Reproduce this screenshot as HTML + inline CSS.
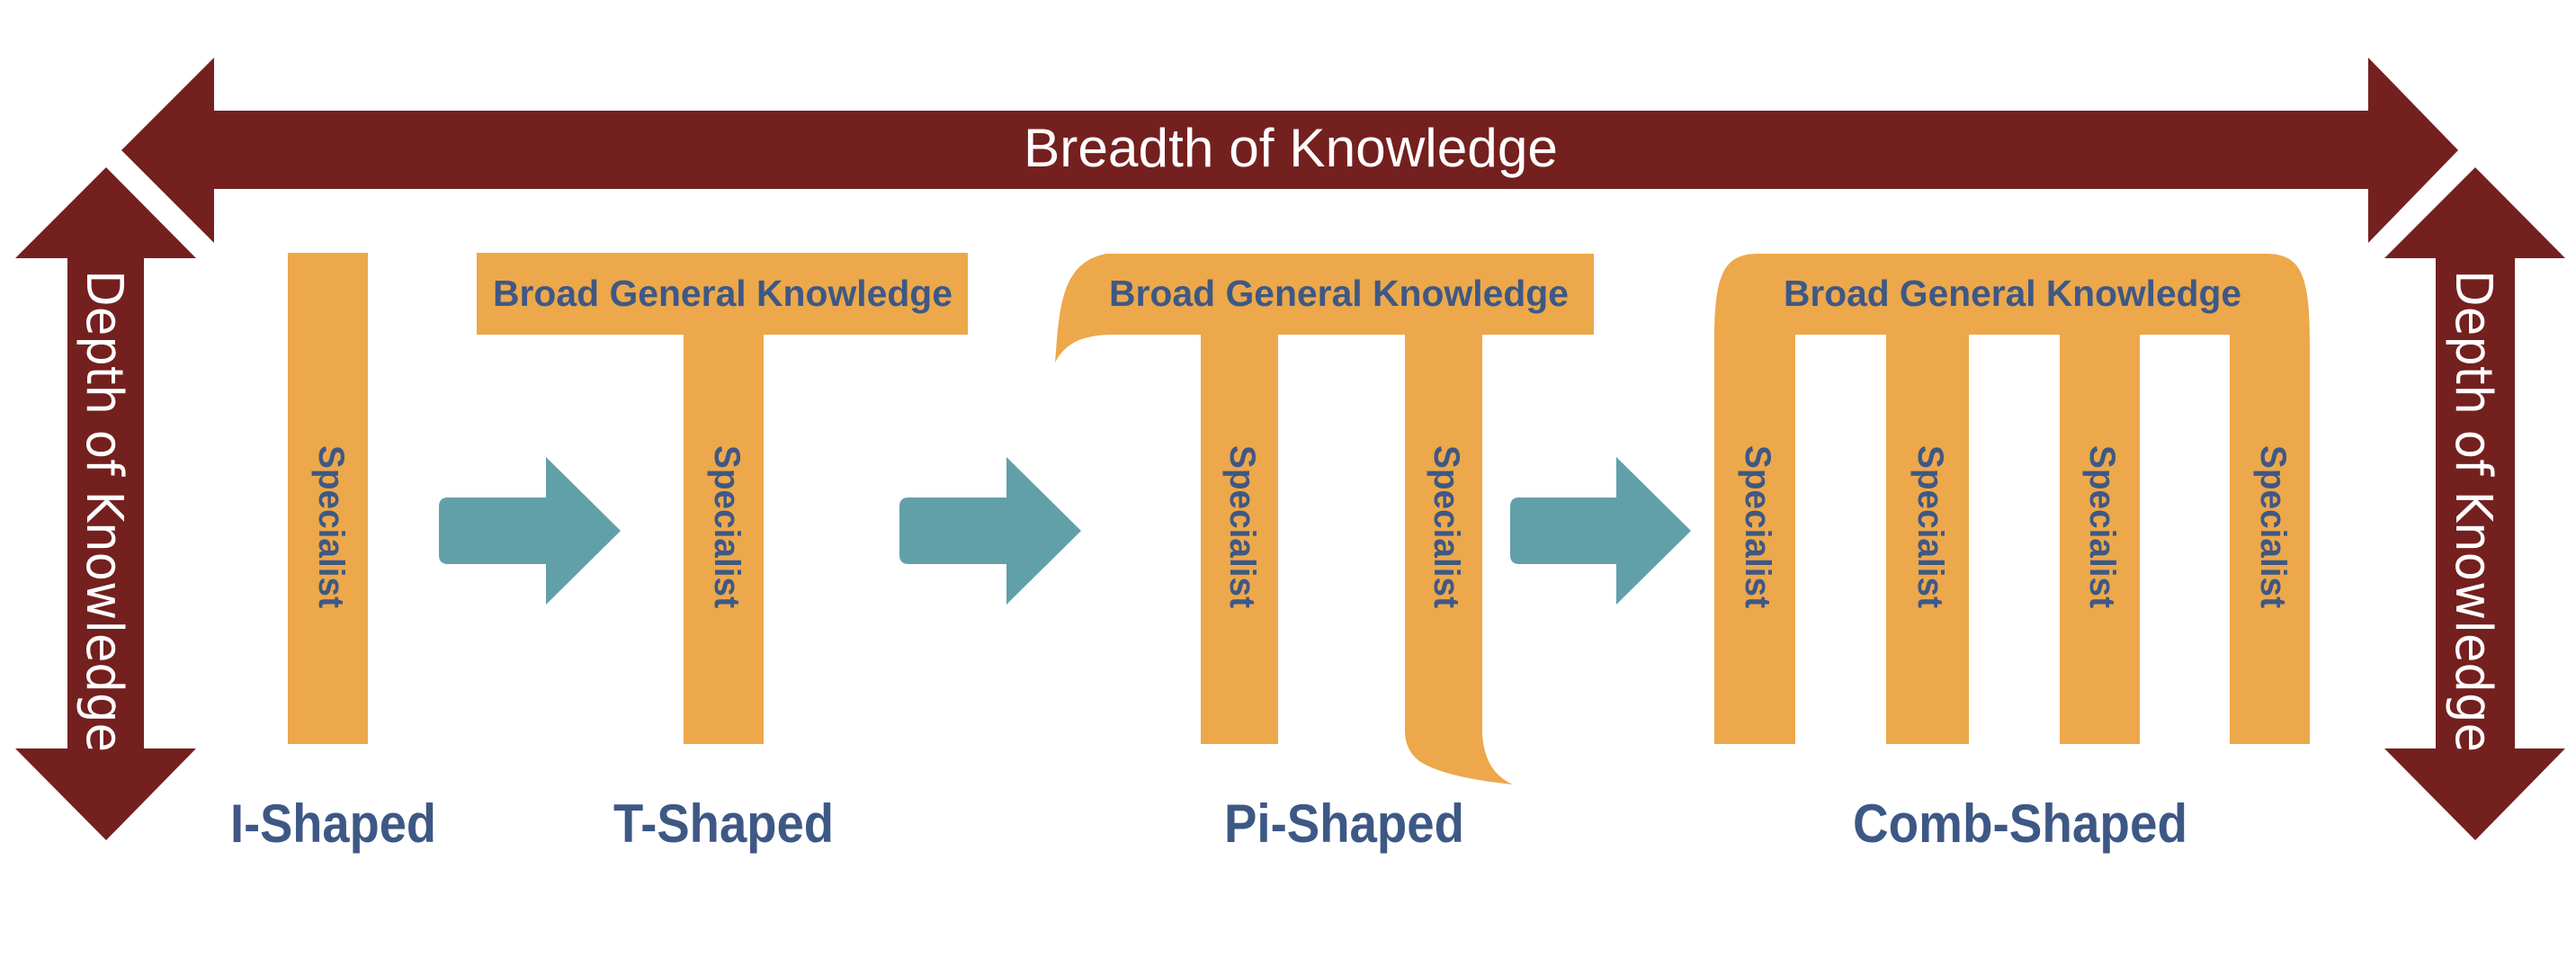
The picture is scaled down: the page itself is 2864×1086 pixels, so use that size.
<!DOCTYPE html>
<html>
<head>
<meta charset="utf-8">
<style>
  html, body { margin: 0; padding: 0; background: #ffffff; }
  body { width: 2864px; height: 1086px; overflow: hidden; }
  svg { display: block; }
</style>
</head>
<body>
<svg width="2864" height="1086" viewBox="0 0 2864 1086" xmlns="http://www.w3.org/2000/svg">
  <rect x="0" y="0" width="2864" height="1086" fill="#ffffff"/>

  <!-- Horizontal double arrow: Breadth of Knowledge -->
  <path d="M135 167 L238 64 L238 123 L2633 123 L2633 64 L2733 167 L2633 270 L2633 210 L238 210 L238 270 Z" fill="#74201f"/>
  <text x="1138" y="185" font-family="Liberation Sans, sans-serif" font-size="60" fill="#ffffff" textLength="594" lengthAdjust="spacingAndGlyphs">Breadth of Knowledge</text>

  <!-- Left vertical double arrow -->
  <path d="M118 186 L218 287 L160 287 L160 832 L218 832 L118 934 L17 832 L75 832 L75 287 L17 287 Z" fill="#74201f"/>
  <text transform="translate(97,300) rotate(90)" font-family="DejaVu Sans, sans-serif" font-size="56" fill="#ffffff" textLength="536" lengthAdjust="spacingAndGlyphs">Depth of Knowledge</text>

  <!-- Right vertical double arrow -->
  <path d="M2752 186 L2852 287 L2796 287 L2796 832 L2852 832 L2752 934 L2651 832 L2708 832 L2708 287 L2651 287 Z" fill="#74201f"/>
  <text transform="translate(2731,300) rotate(90)" font-family="DejaVu Sans, sans-serif" font-size="56" fill="#ffffff" textLength="536" lengthAdjust="spacingAndGlyphs">Depth of Knowledge</text>

  <!-- I-shaped -->
  <rect x="320" y="281" width="89" height="546" fill="#eca84b"/>

  <!-- T-shaped -->
  <rect x="530" y="281" width="546" height="91" fill="#eca84b"/>
  <rect x="760" y="281" width="89" height="546" fill="#eca84b"/>

  <!-- Pi-shaped -->
  <path d="M1230 282 L1772 282 L1772 372 L1648 372 L1648 815 Q1650 858 1682 872 Q1605 864 1578 846 Q1562 834 1562 812 L1562 372 L1421 372 L1421 827 L1335 827 L1335 372 L1240 372 C1205 372 1185 380 1173 403 C1178 340 1180 292 1230 282 Z" fill="#eca84b"/>

  <!-- Comb-shaped -->
  <path d="M1906 827 L1906 380 C1906 305 1916 282 1955 282 L2519 282 C2558 282 2568 305 2568 380 L2568 827 L2479 827 L2479 372 L2379 372 L2379 827 L2290 827 L2290 372 L2189 372 L2189 827 L2097 827 L2097 372 L1996 372 L1996 827 Z" fill="#eca84b"/>

  <!-- Broad General Knowledge labels -->
  <g font-family="Liberation Sans, sans-serif" font-size="41" font-weight="bold" fill="#3e5885">
    <text x="548" y="340" textLength="511" lengthAdjust="spacingAndGlyphs">Broad General Knowledge</text>
    <text x="1233" y="340" textLength="511" lengthAdjust="spacingAndGlyphs">Broad General Knowledge</text>
    <text x="1983" y="340" textLength="509" lengthAdjust="spacingAndGlyphs">Broad General Knowledge</text>
  </g>

  <!-- Specialist labels -->
  <g font-family="Liberation Sans, sans-serif" font-size="40" font-weight="bold" fill="#3e5885">
    <text transform="translate(355,495) rotate(90)" textLength="181" lengthAdjust="spacingAndGlyphs">Specialist</text>
    <text transform="translate(795,495) rotate(90)" textLength="181" lengthAdjust="spacingAndGlyphs">Specialist</text>
    <text transform="translate(1368,495) rotate(90)" textLength="181" lengthAdjust="spacingAndGlyphs">Specialist</text>
    <text transform="translate(1595,495) rotate(90)" textLength="181" lengthAdjust="spacingAndGlyphs">Specialist</text>
    <text transform="translate(1941,495) rotate(90)" textLength="181" lengthAdjust="spacingAndGlyphs">Specialist</text>
    <text transform="translate(2133,495) rotate(90)" textLength="181" lengthAdjust="spacingAndGlyphs">Specialist</text>
    <text transform="translate(2324,495) rotate(90)" textLength="181" lengthAdjust="spacingAndGlyphs">Specialist</text>
    <text transform="translate(2514,495) rotate(90)" textLength="181" lengthAdjust="spacingAndGlyphs">Specialist</text>
  </g>

  <!-- Teal arrows -->
  <path d="M498 553 L607 553 L607 508 L690 590 L607 672 L607 627 L498 627 Q488 627 488 617 L488 563 Q488 553 498 553 Z" fill="#62a0a9"/>
  <path d="M1010 553 L1119 553 L1119 508 L1202 590 L1119 672 L1119 627 L1010 627 Q1000 627 1000 617 L1000 563 Q1000 553 1010 553 Z" fill="#62a0a9"/>
  <path d="M1689 553 L1797 553 L1797 508 L1880 590 L1797 672 L1797 627 L1689 627 Q1679 627 1679 617 L1679 563 Q1679 553 1689 553 Z" fill="#62a0a9"/>

  <!-- Bottom labels -->
  <g font-family="Liberation Sans, sans-serif" font-size="60" font-weight="bold" fill="#3e5885">
    <text x="256" y="936" textLength="229" lengthAdjust="spacingAndGlyphs">I-Shaped</text>
    <text x="682" y="936" textLength="245" lengthAdjust="spacingAndGlyphs">T-Shaped</text>
    <text x="1361" y="936" textLength="267" lengthAdjust="spacingAndGlyphs">Pi-Shaped</text>
    <text x="2060" y="936" textLength="372" lengthAdjust="spacingAndGlyphs">Comb-Shaped</text>
  </g>
</svg>
</body>
</html>
